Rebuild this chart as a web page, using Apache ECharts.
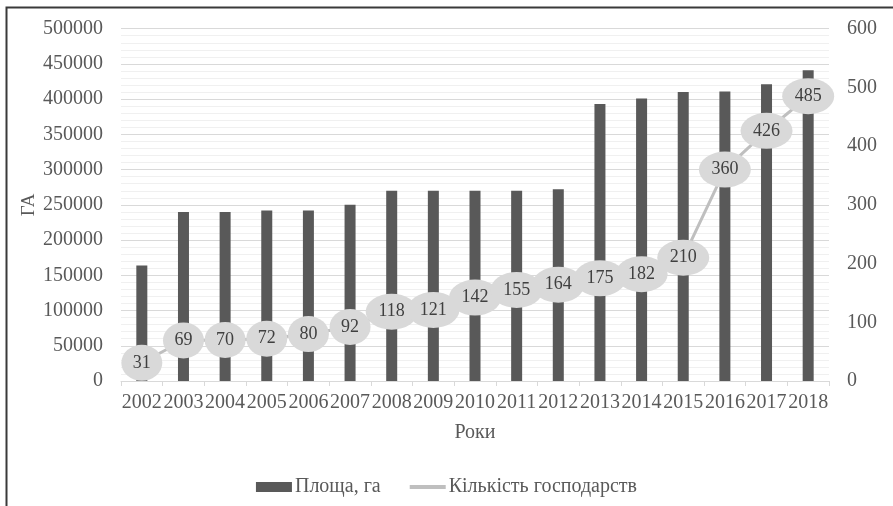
<!DOCTYPE html>
<html>
<head>
<meta charset="utf-8">
<script src="https://cdn.jsdelivr.net/npm/echarts@6/dist/echarts.min.js"></script>
<style>html,body{margin:0;padding:0;background:#fff}#c{width:893px;height:506px}</style>
</head>
<body>
<div id="c"></div>
<script>
const years = ['2002','2003','2004','2005','2006','2007','2008','2009','2010','2011','2012','2013','2014','2015','2016','2017','2018'];
const area = [164000,240000,240000,242000,242000,250000,270000,270000,270000,270000,272000,393000,401000,410000,411000,421000,441000];
const farms = [31,69,70,72,80,92,118,121,142,155,164,175,182,210,360,426,485];
const areaName = 'Площа, га';
const farmsName = 'Кількість господарств';
const xTitle = 'Роки';
const yTitle = 'ГА';

const FONT = '"Liberation Serif", "Times New Roman", serif';
const chart = echarts.init(document.getElementById('c'), null, {renderer:'canvas'});
chart.setOption({
  animation: false,
  backgroundColor: '#fff',
  textStyle: {fontFamily: FONT},
  grid: {left: 121, right: 64, top: 28.7, bottom: 125, containLabel: false, outerBoundsMode: 'none'},
  graphic: [{
    type: 'polyline', silent: true,
    shape: {points: [[6.5, 506], [6.5, 7.5], [893, 7.5]]},
    style: {stroke: '#3a3a3a', lineWidth: 2, fill: null}
  }],
  legend: {
    bottom: 4, left: 'center',
    itemWidth: 36, itemHeight: 10, itemGap: 29,
    textStyle: {fontFamily: FONT, fontSize: 20, color: '#595959', padding: [0,0,0,-2]},
    data: [
      {name: areaName, icon: 'rect'},
      {name: farmsName, icon: 'path://M0,0 M0,3 L36,3 L36,7 L0,7 Z M36,10', itemStyle: {color: '#bfbfbf'}}
    ]
  },
  xAxis: {
    type: 'category', data: years,
    name: xTitle, nameLocation: 'middle', nameGap: 42,
    nameTextStyle: {fontFamily: FONT, fontSize: 20, color: '#595959'},
    axisLine: {show: true, lineStyle: {color: '#d9d9d9', width: 1}},
    axisTick: {show: true, length: 5, alignWithLabel: false, lineStyle: {color: '#d9d9d9'}},
    axisLabel: {interval: 0, margin: 12, fontFamily: FONT, fontSize: 20, color: '#595959'}
  },
  yAxis: [{
    type: 'value', min: 0, max: 500000, interval: 50000,
    name: yTitle, nameLocation: 'middle', nameGap: 82, nameRotate: 90, nameMoveOverlap: false,
    nameTextStyle: {fontFamily: FONT, fontSize: 19, color: '#595959'},
    axisLine: {show: false}, axisTick: {show: false},
    axisLabel: {margin: 18, fontFamily: FONT, fontSize: 20, color: '#595959', formatter: function (v) { return String(v); }},
    splitLine: {show: true, lineStyle: {color: '#d9d9d9', width: 1}},
    minorTick: {show: false, splitNumber: 5},
    minorSplitLine: {show: true, lineStyle: {color: '#f0f0f0', width: 1}}
  }, {
    type: 'value', min: 0, max: 600, interval: 100, position: 'right',
    axisLine: {show: false}, axisTick: {show: false},
    axisLabel: {margin: 18, fontFamily: FONT, fontSize: 20, color: '#595959', formatter: function (v) { return String(v); }},
    splitLine: {show: false}
  }],
  series: [{
    name: areaName, type: 'bar', data: area, barWidth: 11,
    itemStyle: {color: '#595959'}
  }, {
    name: farmsName, type: 'line', yAxisIndex: 1, data: farms,
    symbol: 'circle',
    symbolSize: function (v) { return String(v).length > 2 ? [52, 36] : [41, 36]; },
    itemStyle: {color: '#d9d9d9'},
    lineStyle: {color: '#bfbfbf', width: 3},
    label: {show: true, position: 'inside', fontFamily: FONT, fontSize: 18, color: '#404040'},
    emphasis: {disabled: true}
  }]
});
</script>
</body>
</html>
